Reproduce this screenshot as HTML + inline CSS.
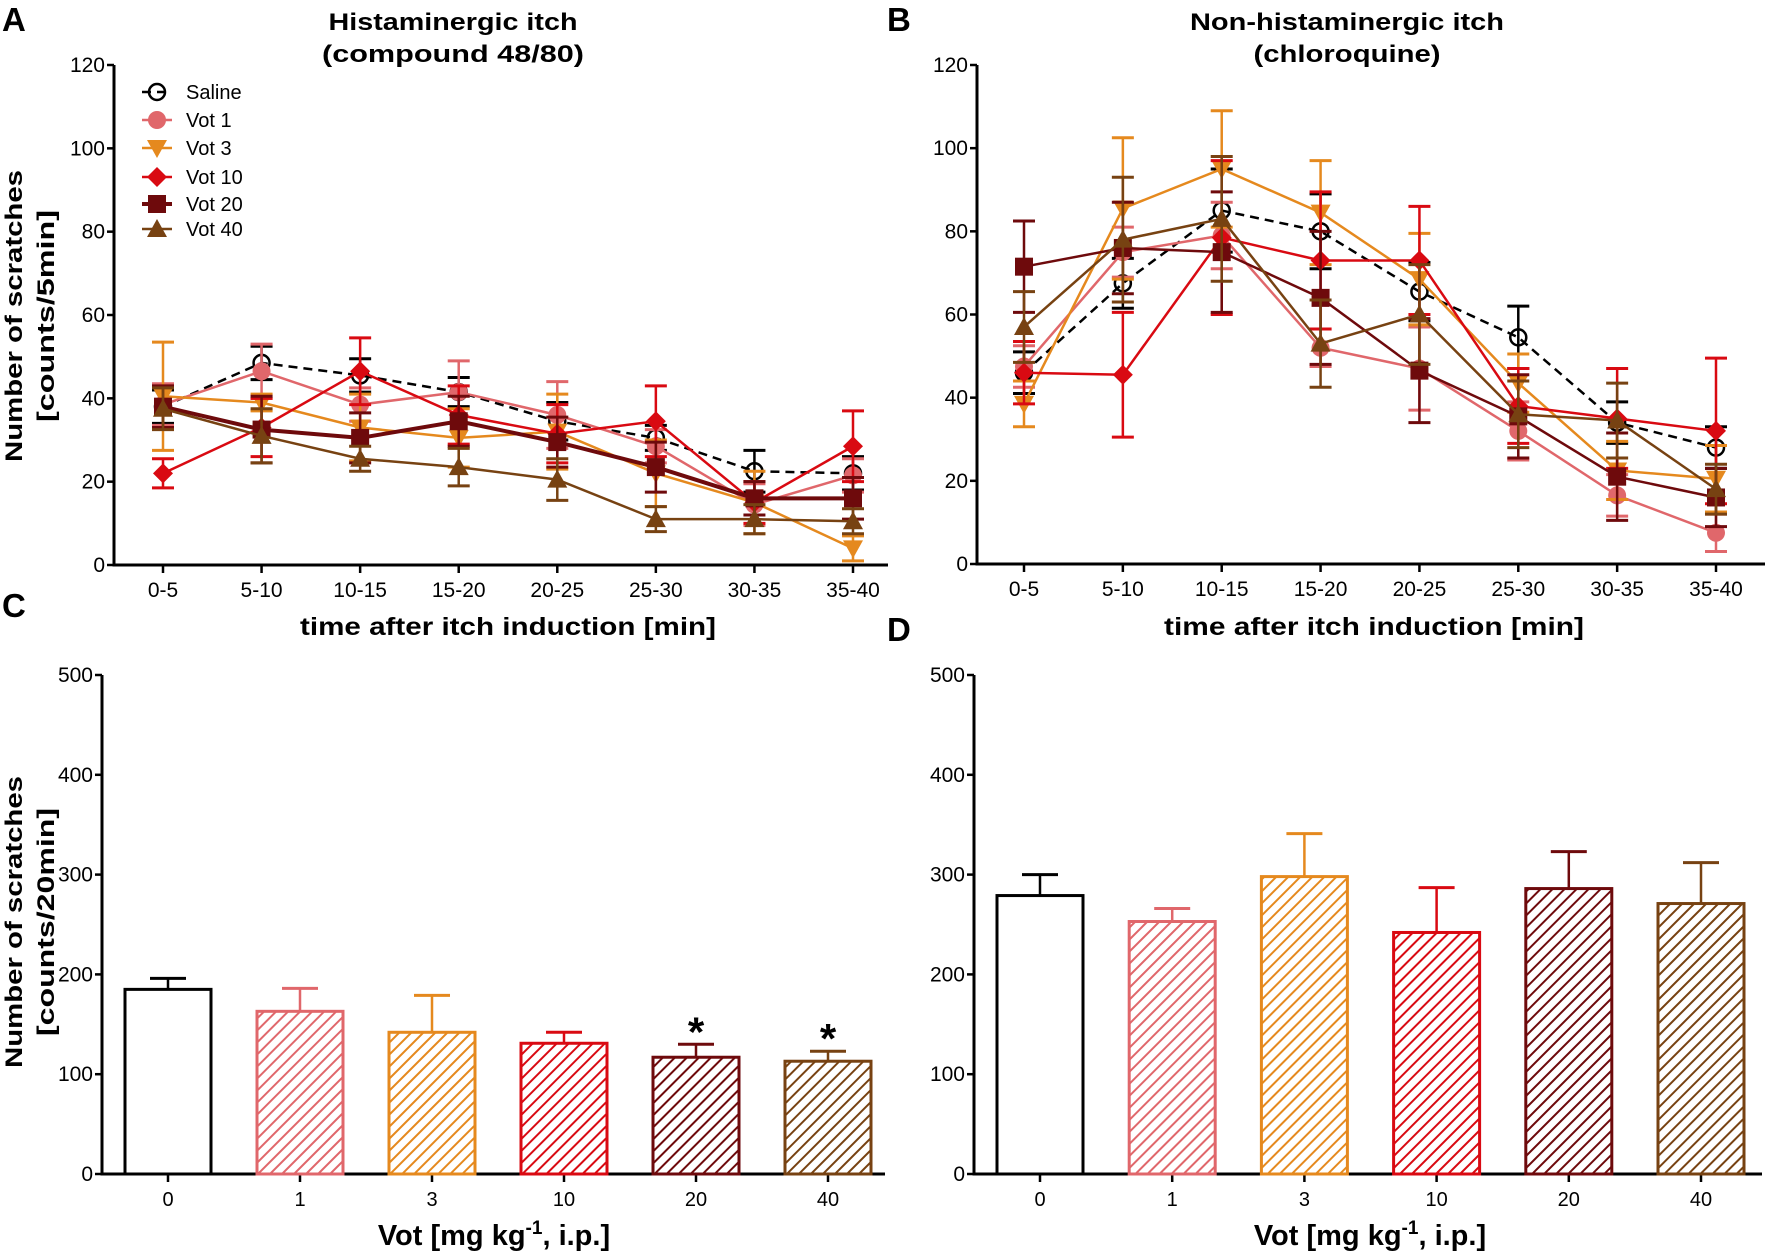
<!DOCTYPE html>
<html><head><meta charset="utf-8"><style>
html,body{margin:0;padding:0;background:#fff;}
svg{display:block;font-family:"Liberation Sans",sans-serif;}
</style></head><body>
<svg id="fig" width="1772" height="1252" viewBox="0 0 1772 1252" xmlns="http://www.w3.org/2000/svg">
<defs>
<pattern id="h1" patternUnits="userSpaceOnUse" width="8.5" height="8.5" patternTransform="rotate(45)"><rect width="8.5" height="8.5" fill="#fff"/><line x1="0" y1="0" x2="0" y2="8.5" stroke="#e0676b" stroke-width="4"/></pattern>
<pattern id="h3" patternUnits="userSpaceOnUse" width="8.5" height="8.5" patternTransform="rotate(45)"><rect width="8.5" height="8.5" fill="#fff"/><line x1="0" y1="0" x2="0" y2="8.5" stroke="#e5891e" stroke-width="4"/></pattern>
<pattern id="h10" patternUnits="userSpaceOnUse" width="8.5" height="8.5" patternTransform="rotate(45)"><rect width="8.5" height="8.5" fill="#fff"/><line x1="0" y1="0" x2="0" y2="8.5" stroke="#d90a12" stroke-width="4"/></pattern>
<pattern id="h20" patternUnits="userSpaceOnUse" width="8.5" height="8.5" patternTransform="rotate(45)"><rect width="8.5" height="8.5" fill="#fff"/><line x1="0" y1="0" x2="0" y2="8.5" stroke="#6e0a0c" stroke-width="4"/></pattern>
<pattern id="h40" patternUnits="userSpaceOnUse" width="8.5" height="8.5" patternTransform="rotate(45)"><rect width="8.5" height="8.5" fill="#fff"/><line x1="0" y1="0" x2="0" y2="8.5" stroke="#774212" stroke-width="4"/></pattern>
</defs>
<g id="root"></g>
</svg>
<script>
// ---- data ----
const timeCats = ["0-5","5-10","10-15","15-20","20-25","25-30","30-35","35-40"];
const lineTicks = [0,20,40,60,80,100,120];
const seriesNames = ["Saline","Vot 1","Vot 3","Vot 10","Vot 20","Vot 40"];
const aSaline = [38,48.5,45.5,41.5,34.5,30.5,22.5,22];
const aVot1 = [38.5,46.5,38.5,41.5,36,28.5,14.5,21.5];
const aVot3 = [40.5,39,33,30.5,32,22,15,4];
const aVot10 = [22,33,46.5,36,31.5,34.5,15,28.5];
const aVot20 = [38,32.5,30.5,34.5,29.5,23.5,16,16];
const aVot40 = [37.5,31,25.5,23.5,20.5,11,11,10.5];
const aErrSaline = [4,4,4,3.5,4.5,3,5,4];
const aErrVot1 = [5,6.5,4,7.5,8,4,5,4];
const aErrVot3 = [13,2,8,7,9,8,7.5,3];
const aErrVot10 = [3.5,7,8,7,7,8.5,5,8.5];
const aErrVot20 = [5,8,6,6,6,6,4,5];
const aErrVot40 = [5,6.5,3,4.5,5,3,3.5,3];
const bSaline = [46,67.5,85,80,65.5,54.5,34,28];
const bVot1 = [47.5,75,79,52,47,32,16.5,7.5];
const bVot3 = [38.5,85.5,95,84.5,68.5,43.5,22.5,20.5];
const bVot10 = [46,45.5,78.5,73,73,38,35,32];
const bVot20 = [71.5,76,75,64,46.5,35.5,21,16];
const bVot40 = [57,78,83,53,60,36,34.5,18];
const bErrSaline = [5,6,10,9,7,7.5,5,5];
const bErrVot1 = [5,6,8,4.5,10,7,5,4.5];
const bErrVot3 = [5.5,17,14,12.5,11,7,7,8];
const bErrVot10 = [7.5,15,18.5,16.5,13,9,12,17.5];
const bErrVot20 = [11,11,14.5,16,12.5,10,10.5,7];
const bErrVot40 = [8.5,15,15,10.5,12,8,9,6];
const doseCats = ["0","1","3","10","20","40"];
const barTicks = [0,100,200,300,400,500];
const cMeans = [185,163,142,131,117,113];
const cErr = [11,23,37,11,13,10];
const dMeans = [279,253,298,242,286,271];
const dErr = [21,13,43,45,37,41];
const cStars = [false,false,false,false,true,true];

// ---- styles ----
const colors = ["#000","#e0676b","#e5891e","#d90a12","#6e0a0c","#774212"];
const shapes = ["circle","dot","tridown","diamond","square","triup"];
const widthsA = [2.5,2.5,2.5,2.5,4,2.5];
const widthsB = [2.5,2.5,2.5,2.5,2.5,2.5];
const patterns = [null,"h1","h3","h10","h20","h40"];
const NS="http://www.w3.org/2000/svg";
const root=document.getElementById('root');
function mk(tag,attrs,parent){const e=document.createElementNS(NS,tag);for(const k in attrs)e.setAttribute(k,attrs[k]);(parent||root).appendChild(e);return e;}
function txt(s,attrs,parent){const e=mk('text',attrs,parent);e.textContent=s;return e;}

function marker(g,shape,x,y,c){
  let e;
  if(shape==="circle") e=mk('circle',{cx:x,cy:y,r:8,fill:"none",stroke:c,"stroke-width":2.5},g);
  else if(shape==="dot") e=mk('circle',{cx:x,cy:y,r:9,fill:c},g);
  else if(shape==="square") e=mk('rect',{x:x-9,y:y-9,width:18,height:18,fill:c},g);
  else if(shape==="diamond") e=mk('polygon',{points:`${x},${y-10} ${x+10},${y} ${x},${y+10} ${x-10},${y}`,fill:c},g);
  else if(shape==="tridown") e=mk('polygon',{points:`${x-10},${y-8} ${x+10},${y-8} ${x},${y+10}`,fill:c},g);
  else e=mk('polygon',{points:`${x-10},${y+8} ${x+10},${y+8} ${x},${y-10}`,fill:c},g);
  return e;
}

function lineChart(id,ax,xEnd,c0,c1,y0,y1,series,errs,showLegend,widths){
  const g=mk('g',{});
  
  
  const yS=v=>y0+(y1-y0)*v/120;
  const xS=i=>c0+(c1-c0)*i/(timeCats.length-1);
  const axes=mk('g',{},g);
  
  
  mk('line',{x1:ax,y1:yS(120),x2:ax,y2:yS(0)+1.5,stroke:"#000","stroke-width":3},axes);
  mk('line',{x1:ax-1.5,y1:yS(0),x2:xEnd,y2:yS(0),stroke:"#000","stroke-width":3},axes);
  lineTicks.forEach(t=>{
    mk('line',{x1:ax-7,y1:yS(t),x2:ax,y2:yS(t),stroke:"#000","stroke-width":2.5},axes);
    const tl=txt(String(t),{x:ax-9,y:yS(t)+7,"text-anchor":"end","font-size":21},axes);
    
    
  });
  timeCats.forEach((c,i)=>{
    mk('line',{x1:xS(i),y1:yS(0),x2:xS(i),y2:yS(0)+8,stroke:"#000","stroke-width":2.5},axes);
    const tl=txt(c,{x:xS(i),y:yS(0)+32,"text-anchor":"middle","font-size":21},axes);
    
    
  });
  series.forEach((vals,s)=>{
    const sg=mk('g',{},g);
    
    
    const col=colors[s];
    vals.forEach((v,i)=>{
      const e=errs[s][i];
      mk('line',{x1:xS(i),y1:yS(v-e),x2:xS(i),y2:yS(v+e),stroke:col,"stroke-width":2.5},sg);
      mk('line',{x1:xS(i)-11,y1:yS(v-e),x2:xS(i)+11,y2:yS(v-e),stroke:col,"stroke-width":3},sg);
      mk('line',{x1:xS(i)-11,y1:yS(v+e),x2:xS(i)+11,y2:yS(v+e),stroke:col,"stroke-width":3},sg);
    });
    const pts=vals.map((v,i)=>xS(i)+","+yS(v)).join(" ");
    const pl=mk('polyline',{points:pts,fill:"none",stroke:col,"stroke-width":widths[s]},sg);
    if(s===0) pl.setAttribute('stroke-dasharray','9,6');
    vals.forEach((v,i)=>{
      const m=marker(sg,shapes[s],xS(i),yS(v),col);
      
      
    });
  });
  if(showLegend){
    const lg=mk('g',{},g);
    
    
    const rows=[92,120,148,177,204,229];
    seriesNames.forEach((n,s)=>{
      const eg=mk('g',{},lg);
      
      
      const ly=rows[s];
      const ll=mk('line',{x1:142,y1:ly,x2:172,y2:ly,stroke:colors[s],"stroke-width":widths[s]},eg);
      if(s===0) ll.setAttribute('stroke-dasharray','9,6');
      marker(eg,shapes[s],157,ly,colors[s]);
      txt(n,{x:186,y:ly+7,"font-size":20},eg);
    });
  }
  return {g,yS};
}

function barChart(id,ax,xEnd,centers,y0,y1,means,errs,stars){
  const g=mk('g',{});
  
  
  const yS=v=>y0+(y1-y0)*v/500;
  const axes=mk('g',{},g);
  
  
  const xS=i=>centers[0]+(centers[1]-centers[0])*i;
  means.forEach((v,i)=>{
    const col=colors[i];
    const e=errs[i];
    mk('line',{x1:xS(i),y1:yS(v),x2:xS(i),y2:yS(v+e),stroke:col,"stroke-width":2.5},g);
    mk('line',{x1:xS(i)-18,y1:yS(v+e),x2:xS(i)+18,y2:yS(v+e),stroke:col,"stroke-width":3},g);
    const r=mk('rect',{x:xS(i)-43,y:yS(v),width:86,height:yS(0)-yS(v),fill:patterns[i]?`url(#${patterns[i]})`:"#fff",stroke:col,"stroke-width":3},g);
    
    
    if(stars&&stars[i]){
      const st=txt("*",{x:xS(i),y:yS(v+e)+2,"text-anchor":"middle","font-size":42,"font-weight":"bold"},g);
      
      
    }
  });
  mk('line',{x1:ax,y1:yS(500),x2:ax,y2:yS(0)+1.5,stroke:"#000","stroke-width":3},axes);
  mk('line',{x1:ax-1.5,y1:yS(0),x2:xEnd,y2:yS(0),stroke:"#000","stroke-width":3},axes);
  barTicks.forEach(t=>{
    mk('line',{x1:ax-7,y1:yS(t),x2:ax,y2:yS(t),stroke:"#000","stroke-width":2.5},axes);
    const tl=txt(String(t),{x:ax-9,y:yS(t)+7,"text-anchor":"end","font-size":21},axes);
    
    
  });
  doseCats.forEach((c,i)=>{
    mk('line',{x1:xS(i),y1:yS(0),x2:xS(i),y2:yS(0)+8,stroke:"#000","stroke-width":2.5},axes);
    const tl=txt(c,{x:xS(i),y:yS(0)+32,"text-anchor":"middle","font-size":20},axes);
    
    
  });
}

lineChart('panel-a',114,888,163,853,565,65,[aSaline,aVot1,aVot3,aVot10,aVot20,aVot40],[aErrSaline,aErrVot1,aErrVot3,aErrVot10,aErrVot20,aErrVot40],true,widthsA);
lineChart('panel-b',977,1765,1024,1716,564,65,[bSaline,bVot1,bVot3,bVot10,bVot20,bVot40],[bErrSaline,bErrVot1,bErrVot3,bErrVot10,bErrVot20,bErrVot40],false,widthsB);
barChart('panel-c',102,885,[168,300],1174,675,cMeans,cErr,cStars);
barChart('panel-d',974,1762,[1040,1172.2],1174,675,dMeans,dErr,null);

// ---- labels ----
function label(name,s,attrs){const t=txt(s,attrs);return t;}
label('panel-letter-a','A',{x:2,y:31,"font-size":33,"font-weight":"bold"});
label('panel-letter-b','B',{x:887,y:31,"font-size":33,"font-weight":"bold"});
label('panel-letter-c','C',{x:2,y:617,"font-size":33,"font-weight":"bold"});
label('panel-letter-d','D',{x:887,y:641,"font-size":33,"font-weight":"bold"});
label('panel-a-title-line1','Histaminergic itch',{x:453,y:30,"text-anchor":"middle","font-size":24,"font-weight":"bold",textLength:249,lengthAdjust:"spacingAndGlyphs"});
label('panel-a-title-line2','(compound 48/80)',{x:453,y:62,"text-anchor":"middle","font-size":24,"font-weight":"bold",textLength:262,lengthAdjust:"spacingAndGlyphs"});
label('panel-b-title-line1','Non-histaminergic itch',{x:1347,y:30,"text-anchor":"middle","font-size":24,"font-weight":"bold",textLength:314,lengthAdjust:"spacingAndGlyphs"});
label('panel-b-title-line2','(chloroquine)',{x:1347,y:62,"text-anchor":"middle","font-size":24,"font-weight":"bold",textLength:187,lengthAdjust:"spacingAndGlyphs"});
label('panel-a-x-axis-title','time after itch induction [min]',{x:508,y:635,"text-anchor":"middle","font-size":25,"font-weight":"bold",textLength:416,lengthAdjust:"spacingAndGlyphs"});
label('panel-b-x-axis-title','time after itch induction [min]',{x:1374,y:635,"text-anchor":"middle","font-size":25,"font-weight":"bold",textLength:420,lengthAdjust:"spacingAndGlyphs"});
function vlabel(name,s,x,y,len){label(name,s,{x:0,y:0,"text-anchor":"middle","font-size":24,"font-weight":"bold",textLength:len,lengthAdjust:"spacingAndGlyphs",transform:`translate(${x},${y}) rotate(-90)`});}
vlabel('panel-a-y-axis-title-line1','Number of scratches',22,316,292);
vlabel('panel-a-y-axis-title-line2','[counts/5min]',54,316,212);
vlabel('panel-c-y-axis-title-line1','Number of scratches',22,922,292);
vlabel('panel-c-y-axis-title-line2','[counts/20min]',54,922,228);
function xtitle(name,x){
  const t=label(name,'',{x:x,y:1245,"text-anchor":"middle","font-size":29,"font-weight":"bold"});
  const a=document.createElementNS(NS,'tspan');a.textContent='Vot [mg kg';t.appendChild(a);
  const b=document.createElementNS(NS,'tspan');b.setAttribute('dy','-11');b.setAttribute('font-size','19');b.textContent='-1';t.appendChild(b);
  const c=document.createElementNS(NS,'tspan');c.setAttribute('dy','11');c.textContent=', i.p.]';t.appendChild(c);
}
xtitle('panel-c-x-axis-title',494);
xtitle('panel-d-x-axis-title',1370);
</script>
</body></html>
